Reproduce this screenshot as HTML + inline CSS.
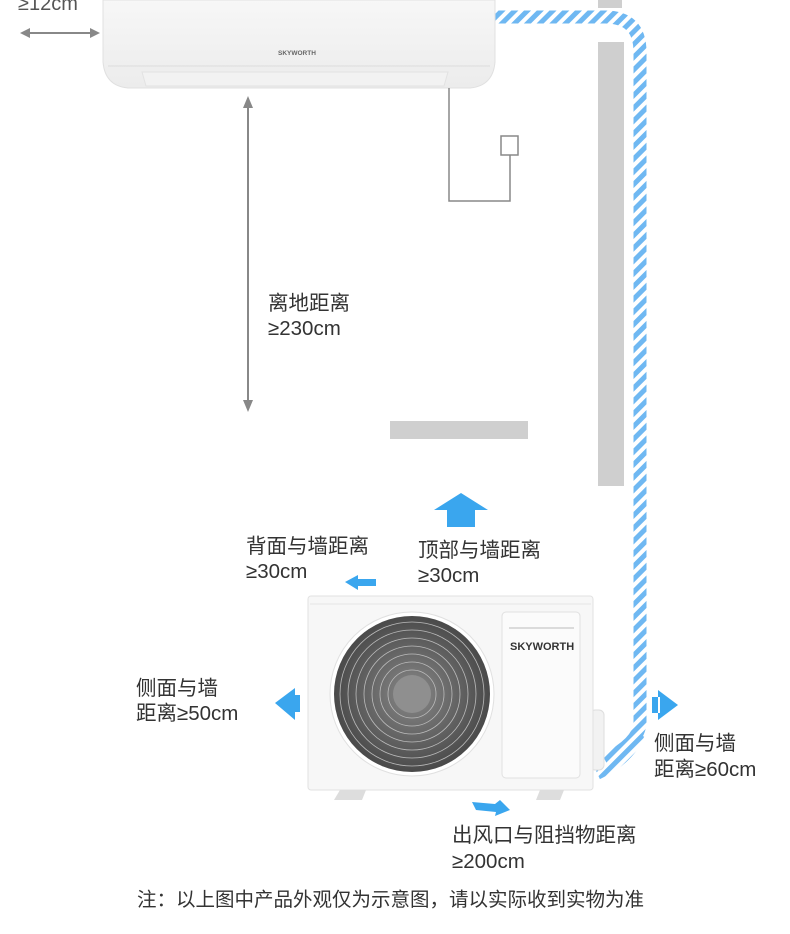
<!DOCTYPE html>
<html><head><meta charset="utf-8"><style>
body{margin:0;background:#fff;}
svg{display:block;}
text{font-family:"Liberation Sans","Noto Sans CJK SC",sans-serif;fill:#333;}
.l{font-size:20.5px;}
</style></head><body>
<svg width="790" height="934" viewBox="0 0 790 934" xmlns="http://www.w3.org/2000/svg">
<defs>
<pattern id="st" width="9" height="9" patternUnits="userSpaceOnUse" patternTransform="rotate(45)">
<rect width="9" height="9" fill="#fff"/><rect width="5" height="9" fill="#6fb8f2"/></pattern>
<linearGradient id="iu" x1="0" y1="0" x2="0" y2="1"><stop offset="0" stop-color="#f7f7f7"/><stop offset="1" stop-color="#ececec"/></linearGradient>
<radialGradient id="fan" cx="0.5" cy="0.5" r="0.5"><stop offset="0" stop-color="#888"/><stop offset="1" stop-color="#4a4a4a"/></radialGradient>
</defs>
<rect x="598" y="0" width="24" height="8" fill="#cfcfcf"/>
<rect x="598" y="42" width="26" height="444" fill="#cfcfcf"/>
<rect x="390" y="421" width="138" height="18" fill="#cfcfcf"/>
<path d="M495 17 H605 Q640 17 640 52 V722 Q640 742 605 760" stroke="url(#st)" stroke-width="13" fill="none"/>
<path d="M640 735 Q630 760 598 775" stroke="url(#st)" stroke-width="9" fill="none"/>
<path d="M103 0 H495 V62 Q493 86 470 88 H128 Q105 86 103 62 Z" fill="url(#iu)" stroke="#e0e0e0"/>
<path d="M108 66 H490" stroke="#dcdcdc"/>
<path d="M142 72 H448 L444 86 H146 Z" fill="#f2f2f2" stroke="#e2e2e2"/>
<text x="278" y="55" font-size="6.5" font-weight="bold" style="fill:#666">SKYWORTH</text>
<text x="18" y="10" font-size="20" style="fill:#555">≥12cm</text>
<path d="M22 33 H98" stroke="#888" stroke-width="2"/>
<path d="M20 33 L30 28 V38 Z M100 33 L90 28 V38 Z" fill="#888"/>
<path d="M248 104 V404" stroke="#888" stroke-width="2"/>
<path d="M248 96 L243 108 H253 Z M248 412 L243 400 H253 Z" fill="#888"/>
<text x="268" y="310" class="l">离地距离</text>
<text x="268" y="335" class="l">≥230cm</text>
<path d="M449 88 V201 H510 V155" stroke="#888" stroke-width="1.5" fill="none"/>
<rect x="501" y="136" width="17" height="19" fill="#fff" stroke="#888" stroke-width="1.5"/>
<rect x="590" y="710" width="14" height="60" rx="5" fill="#f2f2f2" stroke="#ddd"/>
<rect x="308" y="596" width="285" height="194" rx="3" fill="#f7f7f7" stroke="#e2e2e2"/>
<path d="M310 604 H591" stroke="#e4e4e4"/>
<rect x="502" y="612" width="78" height="166" rx="4" fill="#fbfbfb" stroke="#e0e0e0"/>
<path d="M509 628 H574" stroke="#bbb"/>
<text x="510" y="650" font-size="11" font-weight="bold" style="fill:#333">SKYWORTH</text>
<circle cx="412" cy="694" r="82" fill="#fff" stroke="#e0e0e0"/>
<circle cx="412" cy="694" r="78" fill="url(#fan)"/>
<g stroke="#bbb" stroke-width="0.8" fill="none">
<circle cx="412" cy="694" r="72"/><circle cx="412" cy="694" r="64"/><circle cx="412" cy="694" r="56"/><circle cx="412" cy="694" r="48"/><circle cx="412" cy="694" r="40"/><circle cx="412" cy="694" r="32"/><circle cx="412" cy="694" r="24"/>
</g>
<circle cx="412" cy="694" r="19" fill="#8f8f8f"/>
<path d="M340 790 l-6 10 h28 l4-10 Z M540 790 l-4 10 h24 l4-10 Z" fill="#ddd"/>
<g fill="#3aa6ee">
<path d="M461 493 L488 510 H475 V527 H447 V510 H434 Z"/>
<path d="M345 582 L358 575 V579 H376 V586 H358 V590 Z"/>
<path d="M275 703 L295 688 V720 Z M293 695 H300 V712 H293 Z"/>
<path d="M678 705 L658 690 V720 Z M652 697 H660 V713 H652 Z"/>
<path d="M472 802 L495 804 L500 800 L510 810 L495 816 L496 812 L476 810 Z"/>
</g>
<text x="246" y="553" class="l">背面与墙距离</text>
<text x="246" y="578" class="l">≥30cm</text>
<text x="418" y="557" class="l">顶部与墙距离</text>
<text x="418" y="582" class="l">≥30cm</text>
<text x="136" y="695" class="l">侧面与墙</text>
<text x="136" y="720" class="l">距离≥50cm</text>
<text x="654" y="750" class="l">侧面与墙</text>
<text x="654" y="776" class="l">距离≥60cm</text>
<text x="452" y="842" class="l">出风口与阻挡物距离</text>
<text x="452" y="868" class="l">≥200cm</text>
<text x="137" y="906" font-size="19.5">注：以上图中产品外观仅为示意图，请以实际收到实物为准</text>
</svg>
</body></html>
